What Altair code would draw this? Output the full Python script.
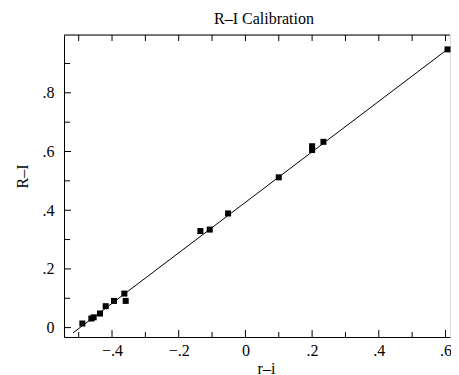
import altair as alt
import pandas as pd

# data points
ri = [-0.489, -0.462, -0.455, -0.436, -0.419, -0.394, -0.363, -0.359,
      -0.135, -0.107, -0.052, 0.100, 0.200, 0.200, 0.234, 0.606]
RI = [0.014, 0.031, 0.035, 0.048, 0.073, 0.091, 0.116, 0.091,
      0.329, 0.334, 0.389, 0.512, 0.605, 0.618, 0.633, 0.948]

# fitted calibration line end points
fit_x = [-0.517, 0.630]
fit_y = [-0.018, 0.969]

# tick values
x_major = [-0.4, -0.2, 0.0, 0.2, 0.4, 0.6]
x_minor = [-0.5, -0.3, -0.1, 0.1, 0.3, 0.5]
x_top = [-0.5, -0.4, -0.3, -0.2, -0.1, 0.0, 0.1, 0.2, 0.3, 0.4, 0.5, 0.6]
y_major = [0.0, 0.2, 0.4, 0.6, 0.8]
y_minor = [0.1, 0.3, 0.5, 0.7, 0.9]

W, H = 386, 302
xdom = [-0.544, 0.6135]
ydom = [-0.032, 0.997]
FONT = "Liberation Serif"

xs = alt.Scale(domain=xdom, nice=False, zero=False)
ys = alt.Scale(domain=ydom, nice=False, zero=False)

lab = ("datum.value == 0 ? '0' : replace(replace(format(datum.value, '.1f'), '0.', '.'), '-', '\u2013')")

XAX = alt.Axis(values=x_major, labelExpr=lab, ticks=False, tickSize=0, grid=False,
               domainColor="black", domainWidth=1, labelPadding=18, labelBaseline="alphabetic",
               labelFont=FONT, labelFontSize=16, labelColor="black",
               titleFont=FONT, titleFontSize=16, titleFontWeight="normal",
               titleColor="black", titleX=202, titleY=36, titleBaseline="alphabetic",
               titleAlign="center")
YAX = alt.Axis(values=y_major, labelExpr=lab, ticks=False, tickSize=0, grid=False,
               domainColor="black", domainWidth=1, labelPadding=10,
               labelFont=FONT, labelFontSize=16, labelColor="black",
               titleFont=FONT, titleFontSize=16, titleFontWeight="normal",
               titleColor="black", titleX=-37, titleY=141, titleBaseline="alphabetic",
               titleAlign="center", titleAngle=270)
XT = "r\u2013i"
YT = "R\u2013I"

pts = pd.DataFrame({"x": ri, "y": RI})
line_df = pd.DataFrame({"x": fit_x, "y": fit_y})

points = alt.Chart(pts).mark_square(size=36, color="black", opacity=1, filled=True).encode(
    x=alt.X("x:Q", scale=xs, title=XT, axis=XAX),
    y=alt.Y("y:Q", scale=ys, title=YT, axis=YAX),
)

fit = alt.Chart(line_df).mark_line(color="black", strokeWidth=1, clip=True).encode(
    x=alt.X("x:Q", scale=xs, title=XT, axis=XAX),
    y=alt.Y("y:Q", scale=ys, title=YT, axis=YAX),
)

def xticks(vals, y1, y2):
    return alt.Chart(pd.DataFrame({"x": vals})).mark_rule(color="black", strokeWidth=1).encode(
        x=alt.X("x:Q", scale=xs, title=XT, axis=XAX), y=alt.value(y1), y2=alt.value(y2))

def yticks(vals, x1, x2):
    return alt.Chart(pd.DataFrame({"y": vals})).mark_rule(color="black", strokeWidth=1).encode(
        y=alt.Y("y:Q", scale=ys, title=YT, axis=YAX), x=alt.value(x1), x2=alt.value(x2))

top_line = alt.Chart(pd.DataFrame({"a": [0]})).mark_rule(color="black", strokeWidth=1).encode(
    x=alt.value(0), x2=alt.value(W), y=alt.value(0))

chart = alt.layer(
    points, fit,
    xticks(x_major, H, H - 7), xticks(x_minor, H, H - 5),
    xticks(x_top, 0, 6),
    yticks(y_major, 0, 7), yticks(y_minor, 0, 6),
    top_line,
).properties(
    width=W, height=H,
    title=alt.TitleParams("R\u2013I Calibration", font=FONT, fontSize=16, fontWeight="normal",
                          color="black", offset=8, dx=7),
    autosize=alt.AutoSizeParams(type="none"),
    padding={"left": 56, "top": 27, "right": 1, "bottom": 40},
).configure_view(stroke=None).configure(background="white")

chart.save("out.html", embed_options={"renderer": "svg", "actions": False})
